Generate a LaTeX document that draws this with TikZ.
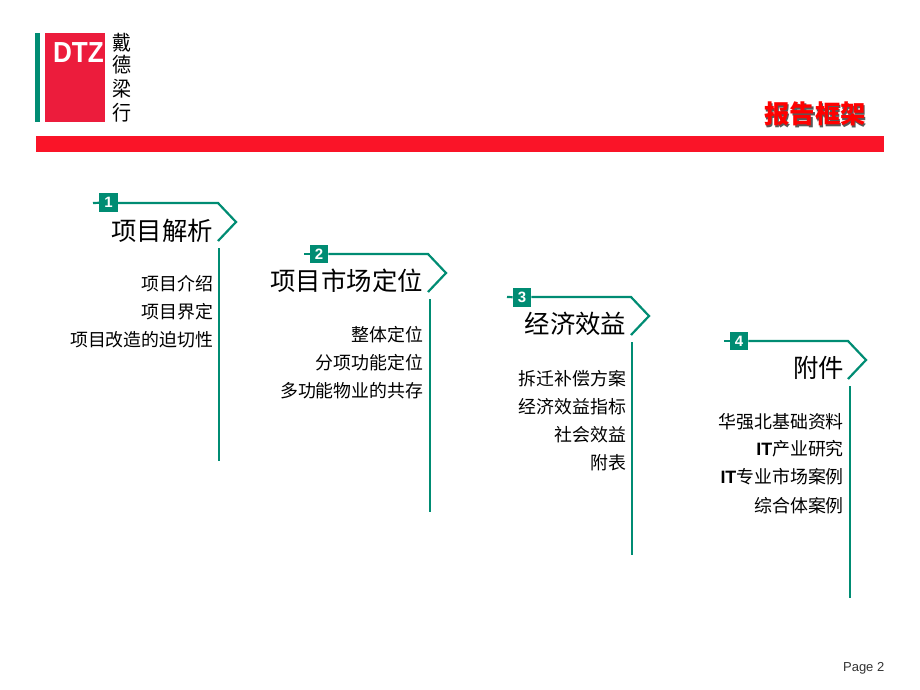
\documentclass[tikz,border=0pt]{standalone}
\usepackage{fontspec}
\setmainfont{Liberation Sans}
\newfontfamily\cjk{Noto Sans CJK SC}
\definecolor{dtzgreen}{RGB}{0,140,115}
\definecolor{dtzred}{RGB}{236,28,60}
\definecolor{barred}{RGB}{250,20,40}
\tikzset{
  rail/.style={dtzgreen, line width=2.2pt},
  badge/.style={fill=dtzgreen, text=white, minimum size=18.5pt, inner sep=0pt, font=\fontsize{15}{15}\selectfont\bfseries},
  heading/.style={anchor=east, inner sep=0pt, font=\fontsize{25.4}{26}\selectfont\cjk},
  entry/.style={anchor=east, inner sep=0pt, font=\fontsize{17.9}{18}\selectfont\cjk},
  logochar/.style={inner sep=0pt, yscale=1.08, font=\fontsize{19}{19}\selectfont\cjk},
}
\begin{document}
\begin{tikzpicture}[x=1pt, y=-1pt]
      \useasboundingbox (0, 0) rectangle (920, 690);
      % logo
      \fill[dtzgreen] (35, 33) rectangle (40, 122);
      \fill[dtzred] (45, 33) rectangle (105, 122);
      \node[text=white, inner sep=0pt, font=\fontsize{29}{29}\selectfont\bfseries, xscale=.9] (logoname) at (78.5, 53) {DTZ};
      \node[logochar] (logoa) at (121.5, 42.5) {戴};
      \node[logochar] (logob) at (121.5, 65) {德};
      \node[logochar] (logoc) at (121.5, 89) {梁};
      \node[logochar] (logod) at (121.5, 112.5) {行};
      % title and bar
      \node[anchor=east, inner sep=0pt, text=black!65, font=\fontsize{25.4}{26}\selectfont\cjk\bfseries] (titleshadow) at (867.5, 115.5) {报告框架};
      \node[anchor=east, inner sep=0pt, text=red, font=\fontsize{25.4}{26}\selectfont\cjk\bfseries] (title) at (866, 114) {报告框架};
      \fill[barred] (36, 136) rectangle (884, 152);
      % part one
      \node[badge] (numa) at (108.5, 202.5) {1};
      \coordinate (taila) at (93, 203);
      \coordinate (benda) at (218, 203);
      \coordinate (tipa) at (236, 222);
      \coordinate (enda) at (218, 241);
      \coordinate (topa) at (219, 248);
      \coordinate (lowa) at (219, 461);
      \draw[rail] (taila) -- (numa);
      \draw[rail] (numa.east |- benda) -- (benda) -- (tipa) -- (enda);
      \draw[rail] (topa) -- (lowa);
      \node[heading] (heada) at (213, 231) {项目解析};
      \node[entry] (itema) at (213.5, 284) {项目介绍};
      \node[entry] (itemb) at (213.5, 312) {项目界定};
      \node[entry] (itemc) at (213.5, 340) {项目改造的迫切性};
      % part two
      \node[badge] (numb) at (319, 254) {2};
      \coordinate (tailb) at (304, 254);
      \coordinate (bendb) at (428, 254);
      \coordinate (tipb) at (446, 273);
      \coordinate (endb) at (428, 292);
      \coordinate (topb) at (430, 299);
      \coordinate (lowb) at (430, 512);
      \draw[rail] (tailb) -- (numb);
      \draw[rail] (numb.east |- bendb) -- (bendb) -- (tipb) -- (endb);
      \draw[rail] (topb) -- (lowb);
      \node[heading] (headb) at (423, 281) {项目市场定位};
      \node[entry] (itemd) at (423.5, 335) {整体定位};
      \node[entry] (iteme) at (423.5, 363) {分项功能定位};
      \node[entry] (itemf) at (423.5, 391) {多功能物业的共存};
      % part three
      \node[badge] (numc) at (522, 297.5) {3};
      \coordinate (tailc) at (507, 297);
      \coordinate (bendc) at (631, 297);
      \coordinate (tipc) at (649, 316);
      \coordinate (endc) at (631, 335);
      \coordinate (topc) at (632, 342);
      \coordinate (lowc) at (632, 555);
      \draw[rail] (tailc) -- (numc);
      \draw[rail] (numc.east |- bendc) -- (bendc) -- (tipc) -- (endc);
      \draw[rail] (topc) -- (lowc);
      \node[heading] (headc) at (626.5, 324) {经济效益};
      \node[entry] (itemg) at (626.5, 379) {拆迁补偿方案};
      \node[entry] (itemh) at (626.5, 407) {经济效益指标};
      \node[entry] (itemi) at (626.5, 435) {社会效益};
      \node[entry] (itemj) at (626.5, 463) {附表};
      % part four
      \node[badge] (numd) at (739, 341) {4};
      \coordinate (taild) at (724, 341);
      \coordinate (bendd) at (848, 341);
      \coordinate (tipd) at (866, 360);
      \coordinate (endd) at (848, 379);
      \coordinate (topd) at (850, 386);
      \coordinate (lowd) at (850, 598);
      \draw[rail] (taild) -- (numd);
      \draw[rail] (numd.east |- bendd) -- (bendd) -- (tipd) -- (endd);
      \draw[rail] (topd) -- (lowd);
      \node[heading] (headd) at (844.5, 368) {附件};
      \node[entry] (itemk) at (844, 422) {华强北基础资料};
      \node[entry] (iteml) at (844, 449) {{\rmfamily\bfseries IT}产业研究};
      \node[entry] (itemm) at (844, 477) {{\rmfamily\bfseries IT}专业市场案例};
      \node[entry] (itemn) at (844, 506) {综合体案例};
      % footer
      \node[anchor=east, inner sep=0pt, text=black!80, font=\fontsize{13}{13}\selectfont] (pageno) at (884.5, 668) {Page 2};
    \end{tikzpicture}
\end{document}
